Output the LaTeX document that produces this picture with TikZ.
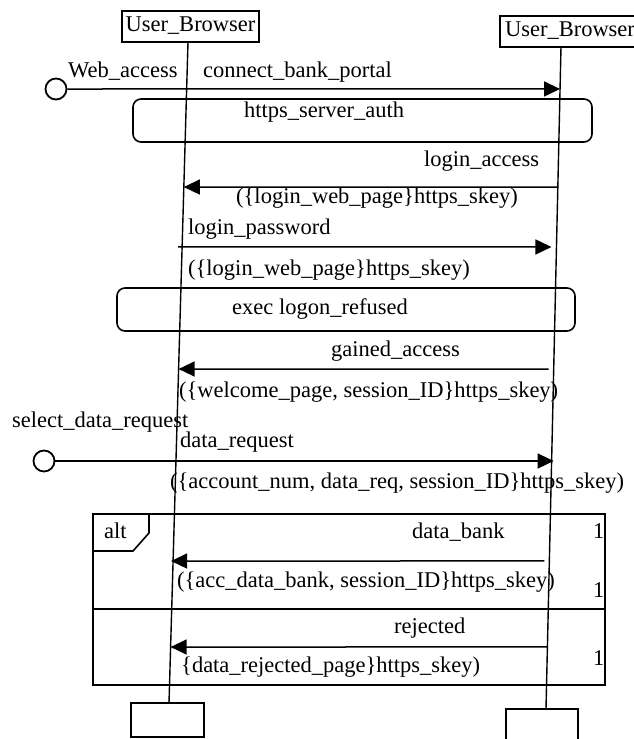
\documentclass[tikz,border=0pt]{standalone}
\usepackage{fontspec}
\setmainfont{Liberation Serif}
\usetikzlibrary{arrows.meta,calc}
\begin{document}
\begin{tikzpicture}[x=1pt,y=-1pt,
  every node/.style={font=\fontsize{22.5}{27}\selectfont},
  lbl/.style={anchor=base west,inner sep=0pt},
  obj/.style={draw,line width=1.6pt,inner sep=0pt,text height=15pt,text depth=5pt},
  life/.style={line width=1.4pt},
  msg/.style={line width=1.5pt,-{Triangle[length=16pt,width=15pt]}},
  gate/.style={draw,circle,line width=1.8pt,minimum size=21pt,inner sep=0pt},
  frm/.style={draw,line width=1.6pt},
  region/.style={draw,line width=1.6pt,rounded corners=8pt}]
\useasboundingbox (0,0) rectangle (634,739);
\clip (0,0) rectangle (634,739);
\fill[white] (0,0) rectangle (634,739);

% participants
\node[obj,minimum width=137pt,minimum height=31pt] (ubA) at (190.5,26.5) {User\_Browser};
\node[obj,minimum width=140pt,minimum height=31pt] (ubB) at (570,31.5) {User\_Browser};
\node[obj,minimum width=73pt,minimum height=34pt] (endA) at (167.5,720) {};
\node[obj,minimum width=72pt,minimum height=36pt] (endB) at (542,727) {};

% lifelines
\coordinate (Lt) at (188,42);
\coordinate (Lb) at (169,703);
\coordinate (Rt) at (561,47);
\coordinate (Rb) at (546,709);
\draw[life] (Lt) -- (Lb);
\draw[life] (Rt) -- (Rb);

% message anchor points on the lifelines
\path (Rt) -- (Rb)
  coordinate[pos=0.0634] (r1)
  coordinate[pos=0.2115] (r2)
  coordinate[pos=0.3021] (r3)
  coordinate[pos=0.4864] (r4)
  coordinate[pos=0.6239] (r5)
  coordinate[pos=0.7764] (r6)
  coordinate[pos=0.9063] (r7);
\path (Lt) -- (Lb)
  coordinate[pos=0.2194] (l2)
  coordinate[pos=0.3101] (l3)
  coordinate[pos=0.4947] (l4)
  coordinate[pos=0.7852] (l6)
  coordinate[pos=0.9153] (l7);

% regions
\draw[region] (133,99) rectangle (592,142);
\draw[region] (117,288) rectangle (575,331);

% alt frame
\draw[frm] (93,514) rectangle (605,685);
\draw[frm] (93,609) -- (605,609);
\draw[frm] (93,551) -- (133,551) -- (149,533) -- (149,514);

% gates
\node[gate] (g1) at (56,89) {};
\node[gate] (g2) at (44,461) {};

% messages
\draw[msg] (g1.east) -- (r1);
\draw[msg] (r2) -- (l2);
\draw[msg,shorten <=-4pt,shorten >=5pt] (l3) -- (r3);
\draw[msg,shorten <=5pt] (r4) -- (l4);
\draw[msg,shorten >=-2pt] (g2.east) -- (g2.east -| r5);
\draw[msg,shorten <=5pt,shorten >=-2pt] (r6) -- (l6);
\draw[msg] (r7) -- (l7);

% labels
\node[lbl] (t1) at (68,77) {Web\_access};
\node[lbl] (t2) at (203,77) {connect\_bank\_portal};
\node[lbl] (t3) at (244,117) {https\_server\_auth};
\node[lbl] (t4) at (424,166) {login\_access};
\node[lbl] (t5) at (236,203) {(\{login\_web\_page\}https\_skey)};
\node[lbl] (t6) at (188,234) {login\_password};
\node[lbl] (t7) at (188,275) {(\{login\_web\_page\}https\_skey)};
\node[lbl] (t8) at (232,314) {exec logon\_refused};
\node[lbl] (t9) at (331,356) {gained\_access};
\node[lbl] (t10) at (179,397) {(\{welcome\_page, session\_ID\}https\_skey)};
\node[lbl] (t11) at (12,427) {select\_data\_request};
\node[lbl] (t12) at (180,447) {data\_request};
\node[lbl] (t13) at (170,488) {(\{account\_num, data\_req, session\_ID\}https\_skey)};
\node[lbl] (t14) at (104,538) {alt};
\node[lbl] (t15) at (412,538) {data\_bank};
\node[lbl] (t16) at (593,538) {1};
\node[lbl] (t17) at (177,587) {(\{acc\_data\_bank, session\_ID\}https\_skey)};
\node[lbl] (t18) at (593,597) {1};
\node[lbl] (t19) at (394,633) {rejected};
\node[lbl] (t20) at (181,672) {\{data\_rejected\_page\}https\_skey)};
\node[lbl] (t21) at (593,665) {1};
\end{tikzpicture}
\end{document}
